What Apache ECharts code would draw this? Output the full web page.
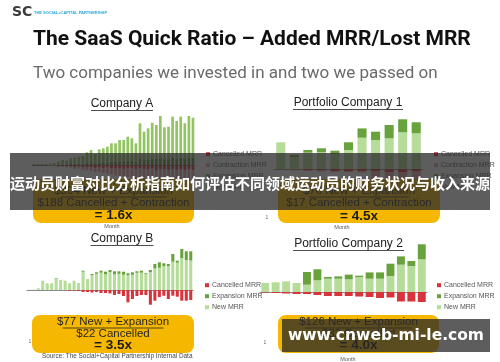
<!DOCTYPE html>
<html><head><meta charset="utf-8">
<script src="https://cdn.jsdelivr.net/npm/echarts@6/dist/echarts.min.js"></script>
<style>html,body{margin:0;padding:0;background:#fff}#c{width:500px;height:362px}</style>
</head><body><div id="c"></div>
<script>
// ---------- DATA ----------
var monthsA = ['1','2','3','4','5','6','7','8','9','10','11','12','13','14','15','16','17','18','19','20','21','22','23','24','25','26','27','28','29','30','31','32','33','34','35','36','37','38','39','40'];
var aNew = [1,1,1,1,1.2,1.6,2.8,4.3,3.7,5.7,6.1,7,7.6,10.7,12.8,9.3,13.4,14.2,15.6,18.4,18.4,21.3,21.2,24,22.7,18.4,35.4,28.3,31.2,36,34,41.6,32,32.5,41,37.4,41,35.4,41.6,40.2];
var aExpansion = [0,0,0,0,0.3,0.4,0.5,0.7,0.6,1,1.2,1.3,1.4,2,2.2,1.7,2.3,2.5,2.7,3.3,3.3,3.7,3.8,4.3,4,3.3,6.3,5,5.5,6.3,6,7.4,5.7,5.8,7.3,6.6,7.3,6.3,7.4,7.1];
var aCancelled = [-0.5,-0.5,-0.5,-0.5,-0.5,-0.5,-1,-1,-1.5,-1,-2,-1.5,-2,-2.5,-2,-3,-2,-3,-2.5,-3,-3.5,-3,-4,-3,-3.5,-4,-3,-4.5,-4,-3.5,-5,-4,-4.5,-5,-4,-5.5,-4,-5,-4.5,-5];
var aContraction = [0,0,0,0,-0.5,-0.5,-1,-1,-1,-1.5,-2,-2,-3,-3,-4,-4,-5,-5,-6,-6,-7,-8,-8,-9,-9,-10,-11,-12,-12,-13,-13,-14,-15,-14,-15,-16,-16,-17,-17,-18];

var months1 = ['1','2','3','4','5','6','7','8','9','10','11'];
var p1New = [26.7,12,16.3,16.7,15,19,31.3,29,30.7,36.7,35.7];
var p1Expansion = [0,2,2.7,4,3.3,7.7,9.3,8.3,13.3,13,11];
var p1Cancelled = [-0.5,-0.5,-1,-1,-2,-2,-2,-2.5,-3,-3,-2.5];
var p1Contraction = [-0.5,-1,-1,-1.5,-1,-1,-1.5,-9,-10,-10,-10];

var monthsB = ['1','2','3','4','5','6','7','8','9','10','11','12','13','14','15','16','17','18','19','20','21','22','23','24','25','26','27','28','29','30','31','32','33','34','35','36','37'];
var bNew = [0.3,0.3,1.7,9.3,6.7,6.7,11.5,10,9.3,6.7,9.3,7,18.3,11,15,16.2,17.3,15.8,18,15.7,16.2,15.3,14.7,15.2,17.2,17.3,15.7,18,21.5,22.2,23.7,24,28.3,27.3,32,30,29.4];
var bExpansion = [0,0,0,0,0,0,0.5,0,0,0,0,0,1,0,1,1.5,2,2.5,2,3,2.5,3,2,2.5,1.5,2,1,2,4.5,5.5,3,2,7.7,2,9,8.7,9.3];
var bCancelled = [0,0,0,0,0,0,0,0,0,-0.7,-0.5,-1,-2,-2,-2.5,-2,-3,-3,-3.5,-5,-4,-6,-12.3,-9,-6,-5,-5,-14.7,-10.7,-7,-5.7,-9,-5.7,-6.7,-10.7,-10.7,-10];

var months2 = ['1','2','3','4','5','6','7','8','9','10','11','12','13','14','15','16'];
var p2New = [9,9.7,10.7,9,7.3,11.7,13.3,13.3,12.7,15,13.3,13.3,16,27.3,26,32.7];
var p2Expansion = [0,0,0,0,12.7,11,1.7,2.3,4.7,1.3,6.3,6.3,12.3,8.3,5,15];
var p2Cancelled = [-0.5,-1,-1.5,-2,-2,-3,-4,-4,-4,-4.5,-5,-6,-5.5,-9.5,-9.5,-10];

var mainTitle = 'The SaaS Quick Ratio \u2013 Added MRR/Lost MRR';
var subTitle = 'Two companies we invested in and two we passed on';
var panelTitles = ['Company A','Portfolio Company 1','Company B','Portfolio Company 2'];
var boxLines = [
  ['$304 New + Expansion','$188 Cancelled + Contraction','= 1.6x'],
  ['$76 New + Expansion','$17 Cancelled + Contraction','= 4.5x'],
  ['$77 New + Expansion','$22 Cancelled','= 3.5x'],
  ['$126 New + Expansion','$32 Cancelled','= 4.0x']
];
var bannerText = '\u8fd0\u52a8\u5458\u8d22\u5bcc\u5bf9\u6bd4\u5206\u6790\u6307\u5357\u5982\u4f55\u8bc4\u4f30\u4e0d\u540c\u9886\u57df\u8fd0\u52a8\u5458\u7684\u8d22\u52a1\u72b6\u51b5\u4e0e\u6536\u5165\u6765\u6e90';
var watermarkText = 'www.cnweb-mi-le.com';
var sourceText = 'Source: The Social+Capital Partnership Internal Data';

// ---------- STYLE ----------
var C_NEW = '#b5dc98', C_NEW_A = '#92c462', C_EXP = '#68a23c', C_CAN = '#d8323d', C_CON = '#eaa3a8', C_BOX = '#f5b700';
var SANS = '"Liberation Sans", Arial, sans-serif';

var grids = [
  {left:32, top:115, width:163, height:75},
  {left:274, top:119, width:149, height:70},
  {left:27, top:248, width:166, height:60},
  {left:260, top:242, width:167, height:64}
];
var yr = [[-25,50],[-20,50],[-18,42],[-14,50]];
var cats = [monthsA, months1, monthsB, months2];
var gaps = ['34%','33%','32%','24%'];

var xAxes = [], yAxes = [];
for (var i=0;i<4;i++){
  xAxes.push({type:'category', gridIndex:i, data:cats[i], axisLabel:{show:false}, axisTick:{show:false},
    axisLine:{onZero:true, lineStyle:{color:'#8a8a8a', width:1}}});
  yAxes.push({type:'value', gridIndex:i, min:yr[i][0], max:yr[i][1], show:false, splitLine:{show:false}});
}
function bar(name, gi, data, color){
  return {type:'bar', name:name, xAxisIndex:gi, yAxisIndex:gi, data:data, stack:'s'+gi,
    itemStyle:{color:color}, barCategoryGap:gaps[gi], silent:true, animation:false};
}
var series = [
  bar('Expansion MRR',0,aExpansion,'#5d8f34'),
  bar('New MRR',0,aNew,C_NEW_A),
  bar('Cancelled MRR',0,aCancelled,C_CAN),
  bar('Contraction MRR',0,aContraction,C_CON),
  bar('New MRR',1,p1New,C_NEW),
  bar('Expansion MRR',1,p1Expansion,C_EXP),
  bar('Cancelled MRR',1,p1Cancelled,C_CAN),
  bar('Contraction MRR',1,p1Contraction,C_CON),
  bar('New MRR',2,bNew,C_NEW),
  bar('Expansion MRR',2,bExpansion,C_EXP),
  bar('Cancelled MRR',2,bCancelled,C_CAN),
  bar('New MRR',3,p2New,C_NEW),
  bar('Expansion MRR',3,p2Expansion,C_EXP),
  bar('Cancelled MRR',3,p2Cancelled,C_CAN)
];
function legend(left, top, items){
  return {left:left, top:top, orient:'vertical', itemWidth:4, itemHeight:4, itemGap:2.6, icon:'rect',
    selectedMode:false, z:5,
    textStyle:{fontSize:7, color:'#555', fontFamily:SANS, lineHeight:8.4, padding:[0,0,0,-2]},
    data:items.map(function(it){return {name:it[0], itemStyle:{color:it[1]}};})};
}
var legends = [
  legend(201,145,[['Cancelled MRR',C_CAN],['Contraction MRR',C_CON],['Expansion MRR',C_EXP],['New MRR',C_NEW]]),
  legend(429,145,[['Cancelled MRR',C_CAN],['Contraction MRR',C_CON],['Expansion MRR',C_EXP],['New MRR',C_NEW]]),
  legend(200,276,[['Cancelled MRR',C_CAN],['Expansion MRR',C_EXP],['New MRR',C_NEW]]),
  legend(432,276,[['Cancelled MRR',C_CAN],['Expansion MRR',C_EXP],['New MRR',C_NEW]])
];

// graphics
var g = [];
function txt(x,y,s,font,color,align,z){ g.push({type:'text', x:x, y:y, z:z||50, style:{text:s, font:font, fill:color, align:align||'center', verticalAlign:'middle'}}); }
// logo
txt(12,12,'SC','bold 14px "DejaVu Sans"','#3a3a3a','left');
txt(34,12.5,'THE SOCIAL+CAPITAL PARTNERSHIP','bold 4px '+SANS,'#2aa7d6','left');
// panel titles with underline
var pt = [[122,104,62],[348,103,110],[122,239,63],[348.5,244,111]];
for (var k=0;k<4;k++){
  txt(pt[k][0],pt[k][1],panelTitles[k],'12px '+SANS,'#222');
  g.push({type:'line', z:50, shape:{x1:pt[k][0]-pt[k][2]/2, y1:pt[k][1]+6.5, x2:pt[k][0]+pt[k][2]/2, y2:pt[k][1]+6.5}, style:{stroke:'#222', lineWidth:0.8}});
}
// yellow boxes
var bx = [[33,179,161,44,[191,203,215.5]],[278,179,162,44,[191,203,216]],[32,315,162,38,[322,333.5,345.5]],[278,315,161,38,[322,333.5,345.5]]];
for (var b=0;b<4;b++){
  var r = bx[b], cx = r[0]+r[2]/2;
  g.push({type:'rect', z:40, shape:{x:r[0], y:r[1], width:r[2], height:r[3], r:8}, style:{fill:C_BOX}});
  txt(cx, r[4][0], boxLines[b][0], '11.5px '+SANS, '#262626','center',45);
  var w1 = boxLines[b][0].length*5.3;
  g.push({type:'line', z:45, shape:{x1:cx-w1/2, y1:r[4][0]+6, x2:cx+w1/2, y2:r[4][0]+6}, style:{stroke:'#262626', lineWidth:0.8}});
  txt(cx, r[4][1], boxLines[b][1], '11.5px '+SANS, '#262626','center',45);
  txt(cx, r[4][2], boxLines[b][2], 'bold 13.5px '+SANS, '#1a1a1a','center',45);
}
// small axis remnants
txt(112,226,'Month','5.5px '+SANS,'#555');
txt(342,227,'Month','5.5px '+SANS,'#555');
txt(348,359,'Month','5.5px '+SANS,'#555');
txt(267,218,'1','5px '+SANS,'#666');
txt(30,342,'1','5px '+SANS,'#666');
txt(265,343,'1','5px '+SANS,'#666');
// source
txt(42,356.5,sourceText,'6.4px '+SANS,'#444','left');
// overlays
g.push({type:'rect', z:100, shape:{x:10, y:153, width:480, height:57}, style:{fill:'rgba(42,42,42,0.76)'}});
txt(250,183,bannerText,'bold 15px "Noto Sans CJK SC"','#ffffff','center',110);
g.push({type:'rect', z:100, shape:{x:282, y:319, width:208, height:33}, style:{fill:'rgba(42,42,42,0.76)'}});
txt(386,336,watermarkText,'bold 15.5px "DejaVu Sans"','#ffffff','center',110);

var chart = echarts.init(document.getElementById('c'), null, {renderer:'canvas'});
chart.setOption({
  animation:false,
  backgroundColor:'#ffffff',
  title:[
    {text:mainTitle, left:28, top:24, textStyle:{fontFamily:'Roboto', fontWeight:'bold', fontSize:21, color:'#111'}},
    {text:subTitle, left:28, top:60, textStyle:{fontFamily:'Roboto', fontWeight:'normal', fontSize:17, color:'#6a6a6a'}}
  ],
  grid:grids, xAxis:xAxes, yAxis:yAxes, series:series, legend:legends, graphic:g
});
</script></body></html>
